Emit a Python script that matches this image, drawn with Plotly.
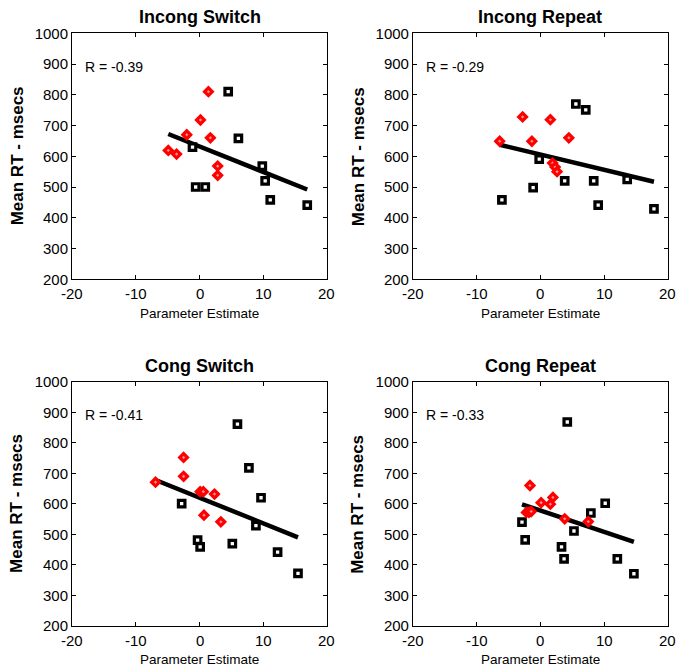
import numpy as np
import plotly.graph_objects as go

# Panel titles and correlation labels
titles = ["Incong Switch", "Incong Repeat", "Cong Switch", "Cong Repeat"]
r_labels = ["R = -0.39", "R = -0.29", "R = -0.41", "R = -0.33"]
x_title = "Parameter Estimate"
y_title = "Mean RT - msecs"

# Red diamonds (group A) per panel: parameter estimate / mean RT
red_x = [
    [1.4, 0.15, -2.0, 1.7, -4.9, -3.6, 2.85, 2.85],
    [-6.4, -2.8, -1.35, 1.55, 4.45, 1.9, 2.3, 2.6],
    [-6.9, -2.5, -2.5, 0.1, 0.6, 2.35, 0.7, 3.35],
    [-1.65, -2.2, -1.8, -1.45, 0.1, 1.55, 1.95, 3.8, 7.5],
]
red_y = [
    [810, 718, 670, 660, 619, 607, 568, 538],
    [649, 728, 649, 719, 660, 578, 565, 550],
    [671, 752, 690, 640, 640, 632, 563, 541],
    [660, 572, 572, 575, 604, 599, 621, 551, 542],
]

# Black squares (group B) per panel
blk_x = [
    [4.5, 6.1, -1.1, -0.6, 0.9, 9.85, 10.3, 11.1, 16.9],
    [5.55, 7.1, -0.2, -1.15, -6.05, 3.8, 8.35, 9.05, 13.6, 17.8],
    [5.95, 7.75, 9.65, -2.8, 8.85, -0.3, 0.1, 5.15, 12.25, 15.45],
    [4.2, 10.15, 7.9, -2.9, 5.25, -2.4, 3.3, 3.7, 12.05, 14.65],
]
blk_y = [
    [810, 658, 630, 500, 500, 568, 520, 458, 441],
    [770, 751, 591, 498, 458, 520, 520, 441, 525, 429],
    [861, 718, 620, 601, 529, 481, 459, 470, 442, 372],
    [868, 602, 570, 540, 511, 482, 459, 420, 420, 371],
]

x_ticks = [-20, -10, 0, 10, 20]
y_ticks = [200, 300, 400, 500, 600, 700, 800, 900, 1000]
x_range = [-20, 20]
y_range = [200, 1000]

FONT = "Liberation Sans, Arial, sans-serif"
W, H = 677, 667

x_domains = [[0.1064, 0.4830], [0.6100, 0.9867]]
y_domains = [[0.5813, 0.9501], [0.0615, 0.4277]]

fig = go.Figure()
layout = {}

for i in range(4):
    row, col = divmod(i, 2)
    n = i + 1
    xa = "x" if n == 1 else f"x{n}"
    ya = "y" if n == 1 else f"y{n}"

    # least-squares line across the observed x range
    xs_all = np.array(red_x[i] + blk_x[i], dtype=float)
    ys_all = np.array(red_y[i] + blk_y[i], dtype=float)
    slope, intercept = np.polyfit(xs_all, ys_all, 1)
    fx = np.array([xs_all.min(), xs_all.max()])
    fig.add_trace(go.Scatter(
        x=fx, y=slope * fx + intercept, mode="lines",
        line=dict(color="black", width=4.5), xaxis=xa, yaxis=ya,
        showlegend=False, hoverinfo="skip"))

    fig.add_trace(go.Scatter(
        x=blk_x[i], y=blk_y[i], mode="markers",
        marker=dict(symbol="square", size=6.5, color="white",
                    line=dict(color="black", width=3.2)),
        xaxis=xa, yaxis=ya, showlegend=False))
    fig.add_trace(go.Scatter(
        x=red_x[i], y=red_y[i], mode="markers",
        marker=dict(symbol="diamond", size=6, color="#ff9090",
                    line=dict(color="#ff0000", width=3.2)),
        xaxis=xa, yaxis=ya, showlegend=False))

    axis_common = dict(
        showline=True, linecolor="black", linewidth=1, mirror="ticks",
        ticks="inside", ticklen=4, tickcolor="black", tickwidth=1,
        showgrid=False, zeroline=False, automargin=False,
        tickfont=dict(family=FONT, size=15, color="black"),
    )
    # x tick labels are drawn as paper-anchored annotations further down
    layout["xaxis" if n == 1 else f"xaxis{n}"] = dict(
        axis_common, domain=x_domains[col], range=x_range,
        tickvals=x_ticks, showticklabels=False, anchor=ya,
    )
    layout["yaxis" if n == 1 else f"yaxis{n}"] = dict(
        axis_common, domain=y_domains[row], range=y_range,
        tickvals=y_ticks, anchor=xa,
    )

annotations = []
for i in range(4):
    row, col = divmod(i, 2)
    n = i + 1
    xa = "x" if n == 1 else f"x{n}"
    ya = "y" if n == 1 else f"y{n}"
    xd, yd = x_domains[col], y_domains[row]
    xc, yc = sum(xd) / 2, sum(yd) / 2
    # x tick labels, positioned along the axis domain
    for t in x_ticks:
        frac = (t - x_range[0]) / (x_range[1] - x_range[0])
        annotations.append(dict(
            text=str(t), x=xd[0] + frac * (xd[1] - xd[0]), y=yd[0],
            xref="paper", yref="paper",
            xanchor="center", yanchor="middle", yshift=-14.5,
            showarrow=False,
            font=dict(family=FONT, size=15, color="black")))
    # correlation label inside the panel
    annotations.append(dict(
        text=r_labels[i], x=-18.3, y=890, xref=xa, yref=ya,
        xanchor="left", yanchor="middle", showarrow=False,
        font=dict(family=FONT, size=14, color="black")))
    # panel title
    annotations.append(dict(
        text=f"<b>{titles[i]}</b>", x=xc, y=yd[1], xref="paper", yref="paper",
        xanchor="center", yanchor="middle", yshift=16, showarrow=False,
        font=dict(family=FONT, size=18, color="black")))
    # x-axis title
    annotations.append(dict(
        text=x_title, x=xc, y=yd[0], xref="paper", yref="paper",
        xanchor="center", yanchor="middle", yshift=-34, showarrow=False,
        font=dict(family=FONT, size=13.5, color="black")))
    # y-axis title
    annotations.append(dict(
        text=f"<b>{y_title}</b>", x=xd[0], y=yc, xref="paper", yref="paper",
        xanchor="center", yanchor="middle", xshift=-55, textangle=-90,
        showarrow=False, font=dict(family=FONT, size=17, color="black")))

fig.update_layout(
    **layout,
    annotations=annotations,
    width=W, height=H,
    margin=dict(l=0, r=0, t=0, b=0, autoexpand=False),
    paper_bgcolor="white", plot_bgcolor="white",
    showlegend=False,
)

fig.write_html("out.html")
